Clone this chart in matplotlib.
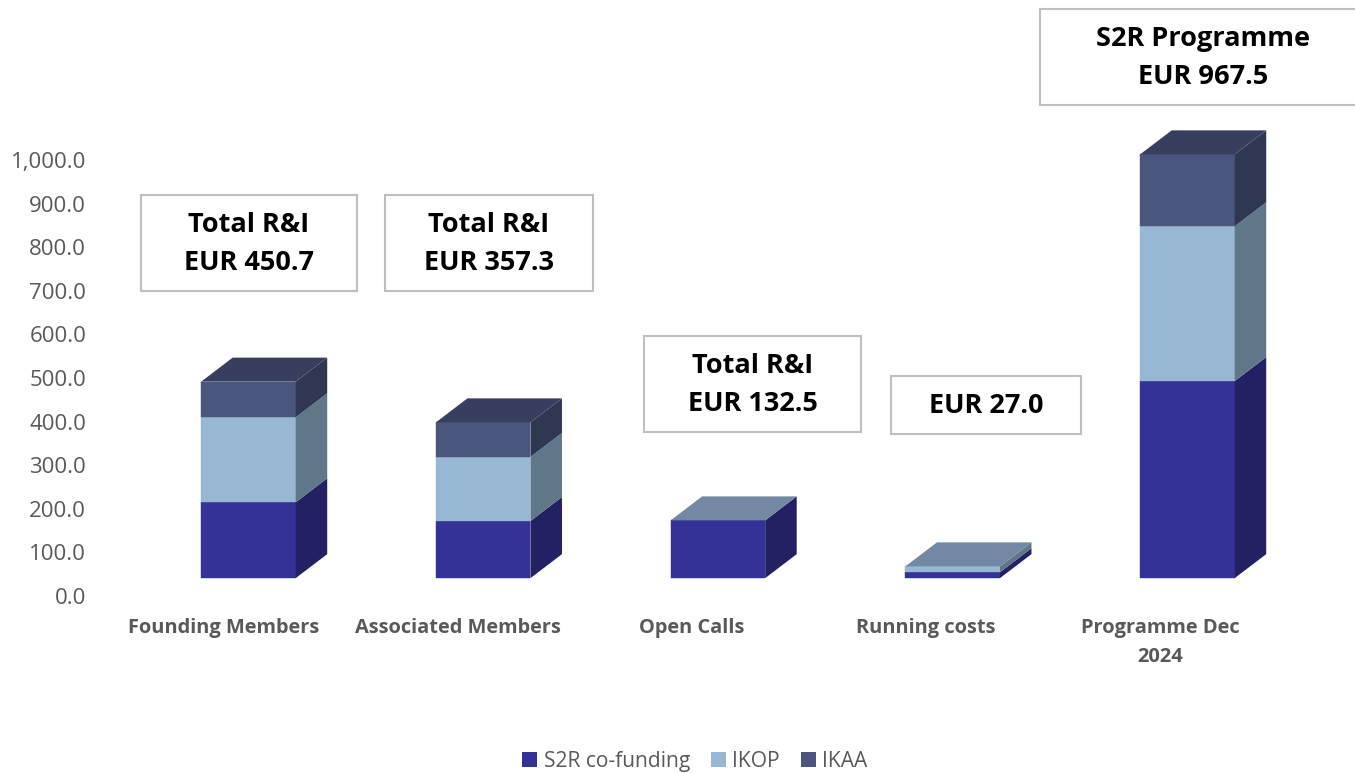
import numpy as np
import matplotlib
matplotlib.use('Agg')
import matplotlib.pyplot as plt
from matplotlib.patches import Rectangle, Patch

plt.rcParams['font.family'] = ['Open Sans', 'DejaVu Sans']

# Datos (EUR millones)
categorias = ['Founding Members', 'Associated Members', 'Open Calls', 'Running costs', 'Programme Dec\n2024']
s2r = [174.0, 131.0, 132.5, 13.5, 452.0]
ikop = [195.0, 147.0, 0.0, 13.5, 355.0]
ikaa = [81.7, 79.3, 0.0, 0.0, 165.0]
series = ['S2R co-funding', 'IKOP', 'IKAA']
ticks_y = [0, 100, 200, 300, 400, 500, 600, 700, 800, 900, 1000]

cuadros = ['Total R&I\nEUR 450.7', 'Total R&I\nEUR 357.3', 'Total R&I\nEUR 132.5', 'EUR 27.0',
           'S2R Programme\nEUR 967.5']
# x0, y0, x1, y1 en pixeles de la figura (y desde arriba)
cajas = [(141, 195, 357, 291), (385, 195, 593, 291), (644, 336, 861, 432), (891, 376, 1081, 434),
         (1040, 9, 1365, 105)]

colores = ['#343297', '#98B7D3', '#4A567E']
lados = ['#232163', '#607689', '#303752']
techos = ['#2A2979', '#7389A3', '#383F5E']

W, H = 1355, 773
fig = plt.figure(figsize=(W / 100, H / 100), dpi=100)
# eje: x de 107 a 1277 px, y=0 en 596 px, y=1000 en 160 px
ax = fig.add_axes([107 / W, 1 - 596 / H, (1277 - 107) / W, (596 - 160) / H])
ax.set_xlim(-0.5, 4.5)
ax.set_ylim(0, 1000)

piso = 41            # el piso 3D queda por encima del cero
ancho = 0.404        # ancho de la cara frontal
desp = 0.1045        # la cara frontal va corrida respecto a la etiqueta
paso = 1.0032        # las barras van un poco mas separadas que las etiquetas
dx, dy = 0.1346, 55  # profundidad

for i in range(len(categorias)):
    x0 = i * paso + desp - ancho / 2
    x1 = x0 + ancho
    base = piso
    for k, vals in enumerate([s2r, ikop, ikaa]):
        v = vals[i]
        if v <= 0:
            continue
        ax.bar(x0, v, width=ancho, bottom=base, align='edge', color=colores[k],
               edgecolor=colores[k], linewidth=0.3, clip_on=False, zorder=3)
        ax.fill([x1, x1 + dx, x1 + dx, x1], [base, base + dy, base + v + dy, base + v],
                color=lados[k], linewidth=0, clip_on=False, zorder=3)
        base += v
    # Open Calls y Running costs tienen el techo de IKOP
    techo = techos[2] if ikaa[i] > 0 else techos[1]
    ax.fill([x0, x1, x1 + dx, x0 + dx], [base, base, base + dy, base + dy],
            color=techo, linewidth=0, clip_on=False, zorder=4)

for s in ax.spines.values():
    s.set_visible(False)
ax.set_yticks(ticks_y)
ax.set_yticklabels([f'{t:,.1f}' for t in ticks_y], fontsize=16, color='#595959')
ax.tick_params(axis='y', length=0, pad=15)
ax.set_xticks(range(len(categorias)))
ax.set_xticklabels(categorias, fontsize=14.4, color='#595959', fontweight='bold', linespacing=1.6)
ax.tick_params(axis='x', length=0, pad=16)

for texto, (a, b, c, d) in zip(cuadros, cajas):
    fig.add_artist(Rectangle((a / W, 1 - d / H), (c - a) / W, (d - b) / H, transform=fig.transFigure,
                             facecolor='white', edgecolor='#BFBFBF', linewidth=1.5, zorder=5))
    # S2R Programme se centra en la parte visible
    cx = 1203 if 'S2R' in texto else (a + c) / 2
    fig.text(cx / W, 1 - ((b + d) / 2 + 1) / H, texto, ha='center', va='center', fontsize=19.5,
             fontweight='bold', color='black', linespacing=1.6, zorder=6)

handles = [Patch(facecolor=colores[k], label=series[k]) for k in range(3)]
fig.legend(handles=handles, loc='lower center', bbox_to_anchor=(695 / W, -0.023), ncol=3, frameon=False,
           fontsize=15.1, labelcolor='#595959', handlelength=0.72, handleheight=0.72, handletextpad=0.3,
           columnspacing=1.0)

fig.savefig('out.png', dpi=100)
